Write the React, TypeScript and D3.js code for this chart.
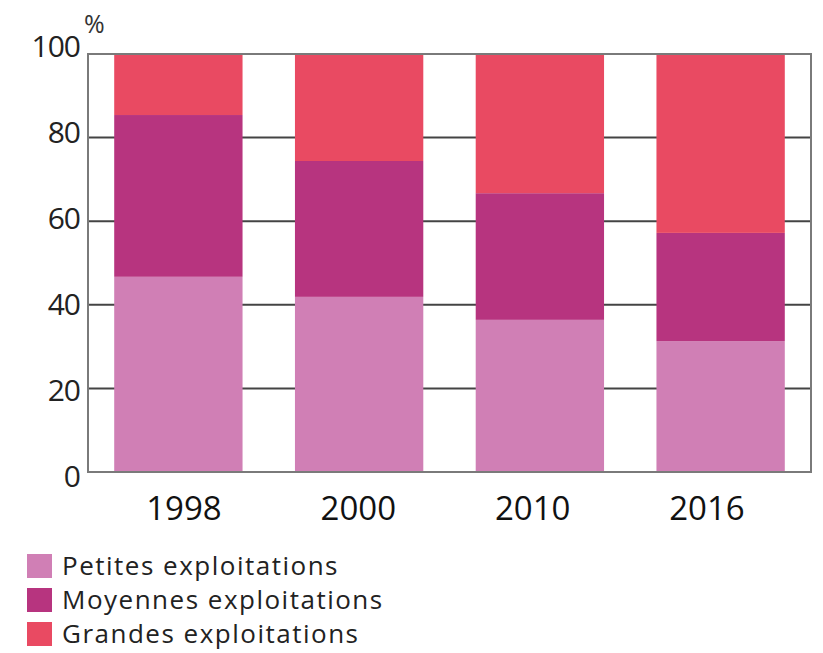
import { useEffect, useRef } from "react";
import * as d3 from "d3";

const years = ["1998", "2000", "2010", "2016"];
const petites = [46.7, 41.9, 36.4, 31.3];
const moyennes = [38.7, 32.5, 30.3, 25.9];
const grandes = [14.6, 25.6, 33.3, 42.8];
const yTicks = [0, 20, 40, 60, 80, 100];
const seriesNames = ["Petites exploitations", "Moyennes exploitations", "Grandes exploitations"];
const seriesColors = ["#d07fb5", "#b7347f", "#e94a62"];

export default function App() {
  const svgRef = useRef<SVGSVGElement>(null);
  const width = 823;
  const height = 653;

  useEffect(() => {
    if (!svgRef.current) return;
    const svg = d3.select(svgRef.current);
    svg.selectAll("*").remove();

    const margin = { top: 54, right: 12, bottom: 181, left: 88 };
    const font = "'Open Sans', sans-serif";

    const x = d3
      .scaleBand<string>()
      .domain(years)
      .range([margin.left, width - margin.right])
      .paddingInner(0.29)
      .paddingOuter(0.145);
    const y = d3.scaleLinear().domain([0, 100]).range([height - margin.bottom, margin.top]);

    // the printed labels sit on a slightly different grid than the bars
    const xLab = d3.scalePoint<string>().domain(years).range([184, 707]);
    const yLab = d3.scaleLinear().domain([0, 100]).range([476, 46]);

    const rows = years.map((yr, i) => ({ year: yr, p: petites[i], m: moyennes[i], g: grandes[i] }));
    const stack = d3.stack<any>().keys(["p", "m", "g"]);
    const layers = stack(rows);

    // grid lines
    svg
      .append("g")
      .selectAll("line")
      .data(yTicks.filter((t) => t > 0 && t < 100))
      .enter()
      .append("line")
      .attr("x1", margin.left)
      .attr("x2", width - margin.right)
      .attr("y1", (d) => y(d))
      .attr("y2", (d) => y(d))
      .style("stroke", "#444")
      .style("stroke-width", "2px");

    // bars
    layers.forEach((layer, k) => {
      svg
        .append("g")
        .selectAll("rect")
        .data(layer)
        .enter()
        .append("rect")
        .attr("x", (d: any) => x(d.data.year)!)
        .attr("width", x.bandwidth())
        .attr("y", (d) => y(d[1]))
        .attr("height", (d) => y(d[0]) - y(d[1]))
        .style("fill", seriesColors[k]);
    });

    // frame
    svg
      .append("rect")
      .attr("x", margin.left)
      .attr("y", y(100))
      .attr("width", width - margin.right - margin.left)
      .attr("height", y(0) - y(100))
      .style("fill", "none")
      .style("stroke", "#7a7a7a")
      .style("stroke-width", "2px");

    // y labels
    svg
      .append("g")
      .selectAll("text")
      .data(yTicks)
      .enter()
      .append("text")
      .attr("x", 80)
      .attr("y", (d) => yLab(d))
      .attr("dy", "0.36em")
      .attr("text-anchor", "end")
      .style("font-family", font)
      .style("font-size", "30px")
      .style("letter-spacing", "-1px")
      .style("fill", "#222")
      .text((d) => d);

    svg
      .append("text")
      .attr("x", 84)
      .attr("y", 33)
      .style("font-family", font)
      .style("font-size", "25px")
      .style("letter-spacing", "-1px")
      .style("fill", "#333")
      .text("%");

    // x labels
    svg
      .append("g")
      .selectAll("text")
      .data(years)
      .enter()
      .append("text")
      .attr("x", (d) => xLab(d)!)
      .attr("y", 520)
      .attr("text-anchor", "middle")
      .style("font-family", font)
      .style("font-size", "33px")
      .style("fill", "#111")
      .text((d) => d);

    // legend
    const legend = svg
      .append("g")
      .selectAll("g")
      .data(seriesNames)
      .enter()
      .append("g")
      .attr("transform", (d, i) => `translate(27,${554 + i * 34})`);
    legend
      .append("rect")
      .attr("width", 25)
      .attr("height", 24)
      .style("fill", (d, i) => seriesColors[i]);
    legend
      .append("text")
      .attr("x", 35)
      .attr("y", 21)
      .style("font-family", font)
      .style("font-size", "26px")
      .style("letter-spacing", "1.5px")
      .style("fill", "#222")
      .text((d) => d);
  }, []);

  return (
    <svg
      ref={svgRef}
      width={width}
      height={height}
      style={{ position: "absolute", left: 0, top: 0, background: "#fff" }}
    ></svg>
  );
}
